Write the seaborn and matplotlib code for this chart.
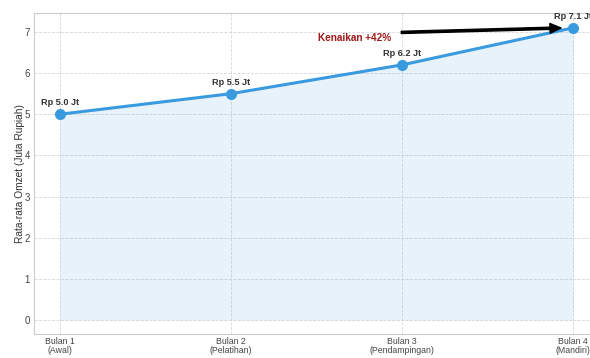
import matplotlib.pyplot as plt
import seaborn as sns
import pandas as pd

bulan = ["Bulan 1\n(Awal)", "Bulan 2\n(Pelatihan)", "Bulan 3\n(Pendampingan)", "Bulan 4\n(Mandiri)"]
omzet = [5.0, 5.5, 6.2, 7.1]
label_titik = ["Rp 5.0 Jt", "Rp 5.5 Jt", "Rp 6.2 Jt", "Rp 7.1 Jt"]

df = pd.DataFrame({"pos": range(len(bulan)), "omzet": omzet})

sns.set_style("whitegrid", {"grid.linestyle": "--", "grid.color": "#dddddd",
                            "axes.edgecolor": "#cccccc"})
plt.rcParams["font.family"] = ["Liberation Sans", "DejaVu Sans"]

warna = "#3a9ae0"
fig = plt.figure(figsize=(5.9, 3.58), dpi=100)
ax = fig.add_axes([34 / 590, 24 / 358, 565 / 590, 321 / 358])

ax.fill_between(df["pos"], df["omzet"], color=warna, alpha=0.12, linewidth=0)
sns.lineplot(data=df, x="pos", y="omzet", ax=ax, color=warna, linewidth=2.2,
             marker="o", markersize=8, markeredgewidth=0)

for x, y, t in zip(df["pos"], omzet, label_titik):
    ax.annotate(t, (x, y), xytext=(0, 5), textcoords="offset points",
                ha="center", va="bottom", fontsize=6.6, fontweight="bold", color="#333333")

ax.annotate("Kenaikan +42%", xy=(2.97, 7.1), xytext=(1.72, 6.86),
            ha="center", va="center", fontsize=7.2, fontweight="bold", color="#a01818",
            arrowprops=dict(facecolor="black", edgecolor="black", shrink=0.04,
                            width=1.6, headwidth=7, headlength=8))

ax.set_xticks(df["pos"])
ax.set_xticklabels(bulan, fontsize=6.3, color="#444444", linespacing=1.1)
ax.tick_params(axis="x", length=0, pad=2)
ax.tick_params(axis="y", labelsize=7, colors="#444444", length=0, pad=3)
ax.set_xlim(-0.152, 3.15)
ax.set_ylim(-0.34, 7.46)
ax.set_xlabel("")
ax.set_ylabel("Rata-rata Omzet (Juta Rupiah)", fontsize=7.3, color="#333333", labelpad=-0.5)
ax.grid(True, linestyle="--", linewidth=0.6, color="#d8d8d8")

fig.savefig("out.png", dpi=100)
